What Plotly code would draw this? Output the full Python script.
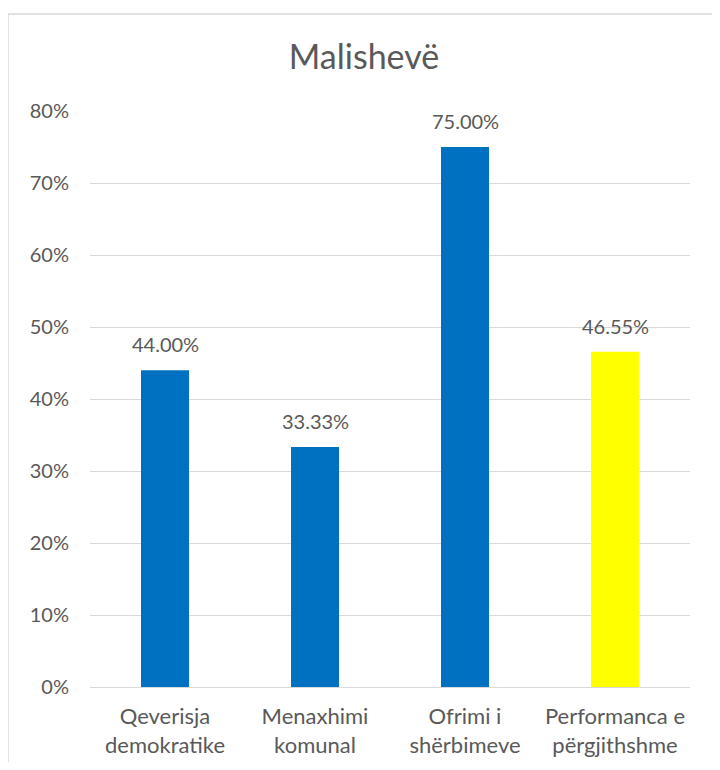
import plotly.graph_objects as go

categories = ["Qeverisja<br>demokratike", "Menaxhimi<br>komunal", "Ofrimi i<br>shërbimeve", "Performanca e<br>përgjithshme"]
values = [0.44, 0.3333, 0.75, 0.4655]
labels = ["44.00%", "33.33%", "75.00%", "46.55%"]
colors = ["#0070C0", "#0070C0", "#0070C0", "#FFFF00"]
title = "Malishevë"

FONT = "Lato, Carlito, Calibri, sans-serif"
GRAY = "#595959"

fig = go.Figure(go.Bar(
    x=categories, y=values, marker=dict(color=colors, line=dict(width=0)),
    width=0.32,
))

for c, v, t in zip(categories, values, labels):
    fig.add_annotation(x=c, y=v, text=t, showarrow=False, yanchor="bottom", yshift=12,
                       font=dict(family=FONT, size=20, color=GRAY))

OFF = 8
W, H = 720 - OFF, 770 - 2 * OFF
L, R, T, B = 90 - OFF, W - (690 - OFF), 111 - OFF, H - (687 - OFF)
pw, ph = W - L - R, H - T - B
def px(x): return (x - OFF - L) / pw
def py(y): return (H - B - (y - OFF)) / ph

fig.update_layout(
    width=W, height=H,
    margin=dict(l=L, r=R, t=T, b=B, autoexpand=False),
    paper_bgcolor="white", plot_bgcolor="white",
    showlegend=False,
    title=dict(text=title, x=0.5, xanchor="center", y=1 - (57 - OFF) / H, yanchor="middle",
               font=dict(family=FONT, size=34, color=GRAY)),
    font=dict(family=FONT, color=GRAY),
    xaxis=dict(tickfont=dict(family=FONT, size=22, color=GRAY), showgrid=False, automargin=False,
               showline=True, linecolor="#D9D9D9", linewidth=1, ticks="", ticklabelstandoff=10),
    yaxis=dict(range=[0, 0.8], dtick=0.1, tickformat=".0%", gridcolor="#D9D9D9", gridwidth=1,
               automargin=False,
               tickfont=dict(family=FONT, size=20, color=GRAY), zeroline=False,
               showline=False, ticks="", ticklabelstandoff=20),
    shapes=[dict(type="rect", xref="paper", yref="paper",
                 x0=px(8), x1=px(716), y0=py(790), y1=py(14),
                 line=dict(color="#D9D9D9", width=1.5), fillcolor="rgba(0,0,0,0)", layer="below")],
)

fig.write_html("out.html")
